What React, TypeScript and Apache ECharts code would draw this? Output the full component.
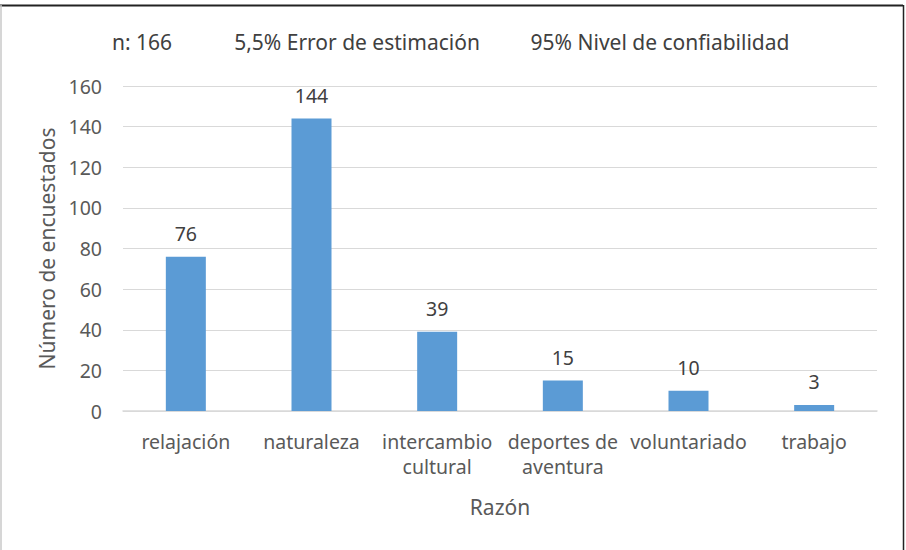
import React, { useEffect, useRef } from "react";
import * as echarts from "echarts";

const categories = ["relajación", "naturaleza", "intercambio\ncultural", "deportes de\naventura", "voluntariado", "trabajo"];
const values = [76, 144, 39, 15, 10, 3];
const headerTexts = ["n: 166", "5,5% Error de estimación", "95% Nivel de confiabilidad"];
const yAxisTitle = "Número de encuestados";
const xAxisTitle = "Razón";

const FONT = "'Noto Sans', sans-serif";

export default function App() {
  const ref = useRef<HTMLDivElement>(null);
  useEffect(() => {
    if (!ref.current) return;
    const chart = echarts.init(ref.current, undefined, { renderer: "svg" });
    chart.setOption({
      animation: false,
      textStyle: { fontFamily: FONT },
      grid: { left: 123, right: 29, top: 86, bottom: 139 },
      graphic: [
        { type: "line", shape: { x1: 0, y1: 5.5, x2: 903, y2: 5.5 }, style: { stroke: "#222", lineWidth: 2 } },
        { type: "line", shape: { x1: 903.5, y1: 5, x2: 903.5, y2: 550 }, style: { stroke: "#222", lineWidth: 1.5 } },
        { type: "line", shape: { x1: 1, y1: 5, x2: 1, y2: 550 }, style: { stroke: "#c8c8c8", lineWidth: 1.5 } },
        { type: "text", x: 142, y: 42, style: { text: headerTexts[0], fontFamily: FONT, fontSize: 21, fill: "#404040", align: "center", verticalAlign: "middle" } },
        { type: "text", x: 357, y: 42, style: { text: headerTexts[1], fontFamily: FONT, fontSize: 21, fill: "#404040", align: "center", verticalAlign: "middle" } },
        { type: "text", x: 660, y: 42, style: { text: headerTexts[2], fontFamily: FONT, fontSize: 21, fill: "#404040", align: "center", verticalAlign: "middle" } },
      ],
      xAxis: {
        type: "category",
        data: categories,
        name: xAxisTitle,
        nameLocation: "middle",
        nameGap: 85,
        nameTextStyle: { fontSize: 21, color: "#595959", fontFamily: FONT },
        axisLine: { lineStyle: { color: "#d9d9d9", width: 1.5 } },
        axisTick: { show: false },
        axisLabel: { fontSize: 19.5, color: "#595959", margin: 18, lineHeight: 25, interval: 0, fontFamily: FONT },
      },
      yAxis: {
        type: "value",
        min: 0,
        max: 160,
        interval: 20,
        name: yAxisTitle,
        nameLocation: "middle",
        nameGap: 66,
        nameTextStyle: { fontSize: 21, color: "#595959", fontFamily: FONT },
        axisLine: { show: false },
        axisTick: { show: false },
        splitLine: { lineStyle: { color: "#d9d9d9", width: 1 } },
        axisLabel: { fontSize: 19.5, color: "#595959", margin: 21, fontFamily: FONT },
      },
      series: [
        {
          type: "bar",
          data: values,
          barWidth: 40,
          itemStyle: { color: "#5b9bd5" },
          label: { show: true, position: "top", distance: 13, fontSize: 19.5, color: "#404040", fontFamily: FONT },
        },
      ],
    });
    return () => chart.dispose();
  }, []);
  return <div ref={ref} style={{ width: 906, height: 550, position: "absolute", left: 0, top: 0, background: "#fff" }} />;
}
